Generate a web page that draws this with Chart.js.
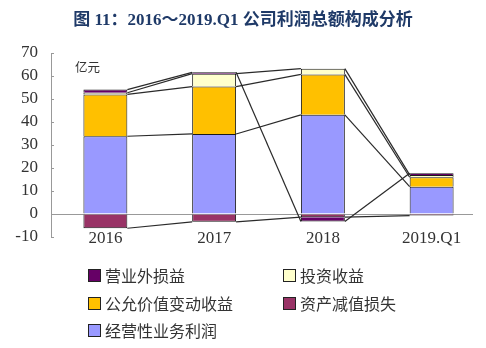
<!DOCTYPE html>
<html>
<head>
<meta charset="utf-8">
<script src="https://cdn.jsdelivr.net/npm/chart.js@4.4.0/dist/chart.umd.min.js"></script>
<style>
  body { margin: 0; background: #fff; }
  #wrap { position: relative; width: 486px; height: 348px; overflow: hidden; }
  #chart { position: absolute; left: 0; top: 0; }
  #title { position: absolute; left: 0; top: 5px; width: 486px; text-align: center;
    font: bold 17px "Liberation Serif", "Noto Sans CJK SC"; color: #1f3a68; white-space: nowrap; }
  #unit { position: absolute; left: 75px; top: 57px; font: 12.5px "Noto Sans CJK SC"; color: #333; }
  .lg { position: absolute; font: 16px "Noto Sans CJK SC"; color: #333; line-height: 20px; white-space: nowrap; }
  .lg i { position: absolute; left: -17px; top: 4px; width: 11px; height: 11px; border: 1px solid #222; }
</style>
</head>
<body>
<div id="wrap">
  <canvas id="chart" width="486" height="348"></canvas>
  <div id="title">图 11：2016～2019.Q1 公司利润总额构成分析</div>
  <div id="unit">亿元</div>
  <div id="legend"></div>
</div>
<script>
// 单位：亿元
const categories = ['2016', '2017', '2018', '2019.Q1'];
const operatingProfit = [33.8, 34.8, 43.1, 11.9];   // 经营性业务利润
const impairmentLoss  = [-6.2, -3.4, -1.4, -0.7];   // 资产减值损失
const fairValueGain   = [18.2, 20.6, 17.6, 4.1];    // 公允价值变动收益
const investIncome    = [0.7, 5.6, 2.5, 1.0];       // 投资收益
const nonOperating    = [1.4, 0.6, -1.9, 0.7];      // 营业外损益
const yTicks = [-10, 0, 10, 20, 30, 40, 50, 60, 70];

const series = [
  { label: '经营性业务利润', data: operatingProfit, color: '#9999ff' },
  { label: '资产减值损失', data: impairmentLoss, color: '#993366' },
  { label: '公允价值变动收益', data: fairValueGain, color: '#ffc000' },
  { label: '投资收益', data: investIncome, color: '#ffffcc' },
  { label: '营业外损益', data: nonOperating, color: '#660066' },
];

// legend: reversed order, two columns
const legendSpots = [[105, 265], [300, 265], [105, 293], [300, 293], [105, 320]];
const legendEl = document.getElementById('legend');
series.slice().reverse().forEach((s, i) => {
  const d = document.createElement('div');
  d.className = 'lg';
  d.style.left = legendSpots[i][0] + 'px';
  d.style.top = legendSpots[i][1] + 'px';
  d.innerHTML = '<i style="background:' + s.color + '"></i>' + s.label;
  legendEl.appendChild(d);
});

// zero line, inner y ticks, series lines between bars, category labels
const extras = {
  id: 'extras',
  beforeDatasetsDraw(chart) {
    const { ctx, chartArea, scales: { y } } = chart;
    ctx.save();
    ctx.strokeStyle = '#999';
    ctx.lineWidth = 1;
    const y0 = Math.round(y.getPixelForValue(0)) + 0.5;
    ctx.beginPath();
    ctx.moveTo(chartArea.left, y0);
    ctx.lineTo(chartArea.right - 13, y0);
    ctx.stroke();
    y.ticks.forEach((t) => {
      const py = Math.round(y.getPixelForValue(t.value)) + 0.5;
      ctx.beginPath();
      ctx.moveTo(chartArea.left, py);
      ctx.lineTo(chartArea.left + 3, py);
      ctx.stroke();
    });
    ctx.restore();
  },
  afterDatasetsDraw(chart) {
    const { ctx, chartArea, scales: { x } } = chart;
    ctx.save();
    ctx.strokeStyle = '#2a2a2a';
    ctx.lineWidth = 1.2;
    chart.data.datasets.forEach((ds, di) => {
      const bars = chart.getDatasetMeta(di).data;
      for (let i = 0; i < bars.length - 1; i++) {
        const a = bars[i];
        const b = bars[i + 1];
        ctx.beginPath();
        ctx.moveTo(a.x + a.width / 2, a.y);
        ctx.lineTo(b.x - b.width / 2, b.y);
        ctx.stroke();
      }
    });
    // category labels sit level with the -10 tick, like the original
    ctx.fillStyle = '#333';
    ctx.font = '17px "Liberation Serif"';
    ctx.textAlign = 'center';
    ctx.textBaseline = 'middle';
    categories.forEach((c, i) => {
      ctx.fillText(c, x.getPixelForValue(i), chartArea.bottom + 2);
    });
    ctx.restore();
  },
};

new Chart(document.getElementById('chart'), {
  type: 'bar',
  data: {
    labels: categories,
    datasets: series.map((s) => ({
      label: s.label,
      data: s.data,
      backgroundColor: s.color,
      borderColor: '#1a1a1a',
      borderWidth: 1,
      barPercentage: 0.404,
      categoryPercentage: 1.0,
    })),
  },
  options: {
    responsive: false,
    animation: false,
    layout: { padding: { top: 53, left: 0, right: 0, bottom: 0 } },
    plugins: {
      legend: { display: false },
      tooltip: { enabled: false },
    },
    scales: {
      x: {
        stacked: true,
        grid: { display: false, drawTicks: false },
        border: { display: false },
        ticks: { display: false },
        afterFit(s) { s.height = 111; },
      },
      y: {
        stacked: true,
        min: -10,
        max: 70,
        afterBuildTicks(s) { s.ticks = yTicks.map((v) => ({ value: v })); },
        grid: { drawOnChartArea: false, drawTicks: false },
        border: { color: '#999' },
        ticks: {
          autoSkip: false,
          padding: 13,
          color: '#333',
          font: { family: '"Liberation Serif"', size: 17 },
        },
        afterFit(s) { s.width = 51; },
      },
    },
  },
  plugins: [extras],
});
</script>
</body>
</html>
